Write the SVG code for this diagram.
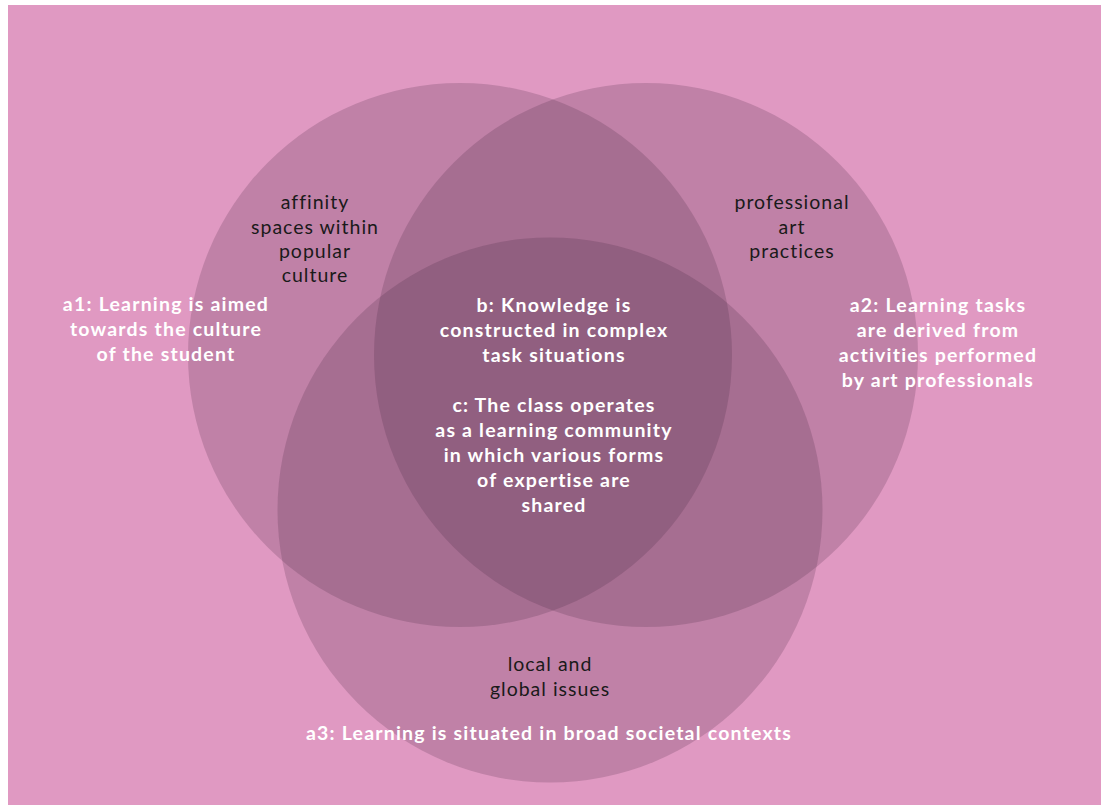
<svg xmlns="http://www.w3.org/2000/svg" width="1101" height="805" viewBox="0 0 1101 805">
<style>
.c{fill:#40213a;fill-opacity:0.2}
.w{font-family:Lato,"Liberation Sans",sans-serif;font-weight:bold;font-size:19.5px;letter-spacing:1.2px;fill:#ffffff;text-anchor:middle}
.k{font-family:Lato,"Liberation Sans",sans-serif;font-size:19.5px;letter-spacing:1px;fill:#1a1a1a;text-anchor:middle}
</style>
<rect x="8" y="5" width="1093" height="800" fill="#e099c2"/>
<g id="circles">
<circle id="circle-a1" class="c" cx="460" cy="355" r="272"/>
<circle id="circle-a2" class="c" cx="646" cy="355" r="272"/>
<circle id="circle-a3" class="c" cx="550" cy="510" r="272.5"/>
</g>
<g id="connectors"></g>
<g id="node-a1"><text class="w"><tspan x="166" y="311">a1: Learning is aimed</tspan><tspan x="166" y="336">towards the culture</tspan><tspan x="166" y="361">of the student</tspan></text></g>
<g id="node-a2"><text class="w"><tspan x="938" y="312">a2: Learning tasks</tspan><tspan x="938" y="337">are derived from</tspan><tspan x="938" y="362">activities performed</tspan><tspan x="938" y="387">by art professionals</tspan></text></g>
<g id="node-a3"><text class="w" x="549" y="740">a3: Learning is situated in broad societal contexts</text></g>
<g id="node-b"><text class="w"><tspan x="554" y="312">b: Knowledge is</tspan><tspan x="554" y="337">constructed in complex</tspan><tspan x="554" y="362">task situations</tspan></text></g>
<g id="node-c"><text class="w"><tspan x="554" y="412">c: The class operates</tspan><tspan x="554" y="437">as a learning community</tspan><tspan x="554" y="462">in which various forms</tspan><tspan x="554" y="487">of expertise are</tspan><tspan x="554" y="512">shared</tspan></text></g>
<g id="node-affinity"><text class="k"><tspan x="315" y="209">affinity</tspan><tspan x="315" y="234">spaces within</tspan><tspan x="315" y="258">popular</tspan><tspan x="315" y="282">culture</tspan></text></g>
<g id="node-professional"><text class="k"><tspan x="792" y="209">professional</tspan><tspan x="792" y="234">art</tspan><tspan x="792" y="258">practices</tspan></text></g>
<g id="node-local"><text class="k"><tspan x="550" y="671">local and</tspan><tspan x="550" y="696">global issues</tspan></text></g>
</svg>
